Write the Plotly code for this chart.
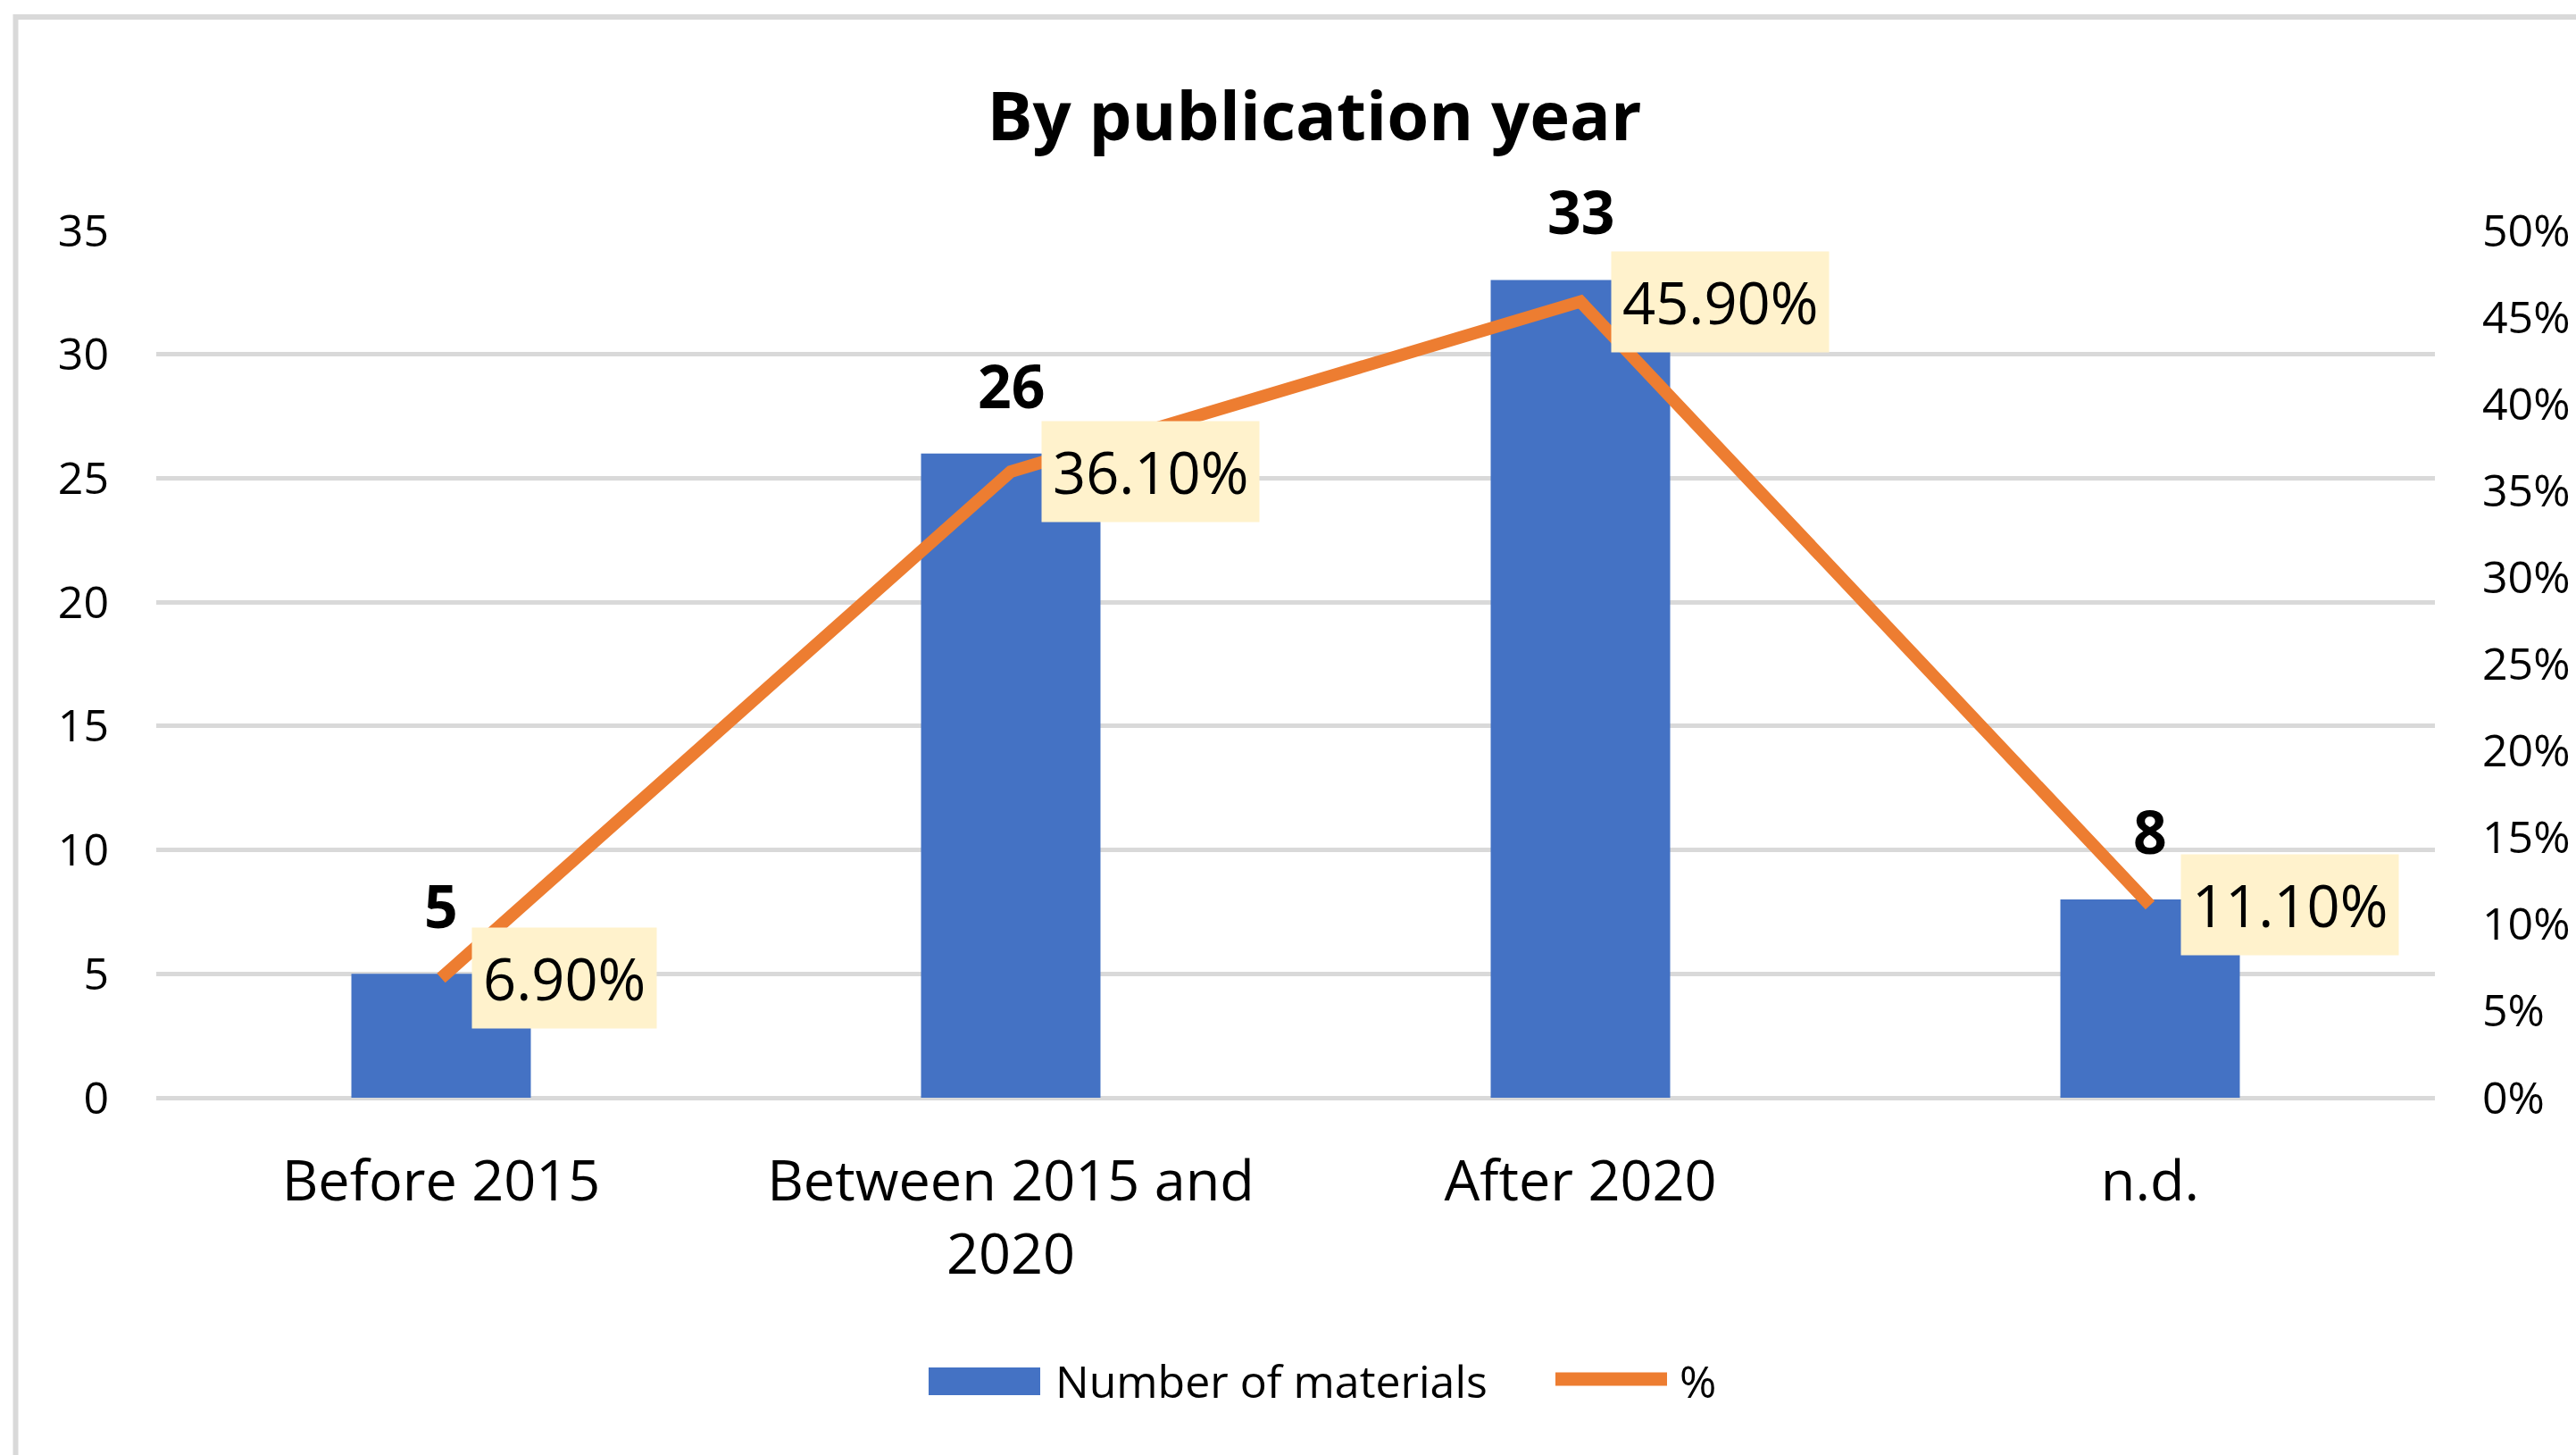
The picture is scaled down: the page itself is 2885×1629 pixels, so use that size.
import plotly.graph_objects as go

# ---- data -------------------------------------------------------------
categories = ["Before 2015", "Between 2015 and 2020", "After 2020", "n.d."]
tick_labels = ["Before 2015", "Between 2015 and<br>2020", "After 2020", "n.d."]
materials = [5, 26, 33, 8]
shares = [0.069, 0.361, 0.459, 0.111]

# ---- canvas / plot-area geometry (pixels) -----------------------------
W, H = 2885, 1629
M_L, M_R, M_T, M_B = 175, 158, 258, 400
PLOT_W = W - M_L - M_R
PLOT_H = H - M_T - M_B


def px_x(px):
    """Pixel column -> paper x."""
    return (px - M_L) / PLOT_W


def px_y(py):
    """Pixel row -> paper y."""
    return (H - M_B - py) / PLOT_H


BLUE = "#4472C4"
ORANGE = "#ED7D31"
GRID = "#D9D9D9"
FONT = "Open Sans"

fig = go.Figure()

fig.add_trace(go.Bar(
    x=categories, y=materials, name="Number of materials",
    marker=dict(color=BLUE, line=dict(width=0)),
    yaxis="y", showlegend=False,
))
fig.add_trace(go.Scatter(
    x=categories, y=shares, name="%", mode="lines",
    line=dict(color=ORANGE, width=14),
    yaxis="y2", showlegend=False,
))

annotations = []

# bold count labels above each bar
for cat, v in zip(categories, materials):
    annotations.append(dict(
        x=cat, y=v, xref="x", yref="y", text=f"<b>{v}</b>",
        showarrow=False, yanchor="bottom", yshift=30,
        font=dict(family=FONT, size=66, color="#000000"),
    ))

# percentage call-outs to the right of each line point
for cat, s in zip(categories, shares):
    annotations.append(dict(
        x=cat, y=s, xref="x", yref="y2", text=f"{s:.2%}",
        showarrow=False, xanchor="left", yanchor="middle", xshift=34,
        bgcolor="#FFF2CC", borderpad=12,
        font=dict(family=FONT, size=65, color="#000000"),
    ))

# legend entries
annotations.append(dict(
    x=px_x(1180), y=px_y(1546), xref="paper", yref="paper",
    text="Number of materials", showarrow=False,
    xanchor="left", yanchor="middle",
    font=dict(family=FONT, size=50, color="#000000"),
))
annotations.append(dict(
    x=px_x(1879), y=px_y(1546), xref="paper", yref="paper",
    text="%", showarrow=False, xanchor="left", yanchor="middle",
    font=dict(family=FONT, size=50, color="#000000"),
))

shapes = [
    # chart-area frame (top and left edges visible)
    dict(type="rect", xref="paper", yref="paper",
         x0=px_x(17.5), x1=px_x(2960), y0=px_y(1700), y1=px_y(19),
         line=dict(color=GRID, width=6), fillcolor="rgba(0,0,0,0)",
         layer="below"),
    # legend swatches
    dict(type="rect", xref="paper", yref="paper",
         x0=px_x(1040), x1=px_x(1165), y0=px_y(1562), y1=px_y(1531),
         line=dict(width=0), fillcolor=BLUE),
    dict(type="line", xref="paper", yref="paper",
         x0=px_x(1742), x1=px_x(1867), y0=px_y(1544), y1=px_y(1544),
         line=dict(color=ORANGE, width=15)),
]

fig.update_layout(
    width=W, height=H,
    margin=dict(l=M_L, r=M_R, t=M_T, b=M_B, autoexpand=False),
    paper_bgcolor="#FFFFFF", plot_bgcolor="#FFFFFF",
    font=dict(family=FONT, color="#000000"),
    title=dict(
        text="<b>By publication year</b>",
        x=1472 / W, y=1 - 130 / H, xref="container", yref="container",
        xanchor="center", yanchor="middle",
        font=dict(family=FONT, size=76, color="#000000"),
    ),
    bargap=0.685,
    xaxis=dict(
        type="category", tickvals=categories, ticktext=tick_labels,
        tickfont=dict(family=FONT, size=63, color="#000000"),
        ticks="", showgrid=False, showline=False, zeroline=False,
        ticklabelstandoff=51,
    ),
    yaxis=dict(
        range=[0, 35], dtick=5, tick0=0,
        tickfont=dict(family=FONT, size=50, color="#000000"),
        showgrid=True, gridcolor=GRID, gridwidth=5,
        zeroline=True, zerolinecolor=GRID, zerolinewidth=5,
        showline=False, ticks="", ticklabelstandoff=52,
    ),
    yaxis2=dict(
        overlaying="y", side="right", range=[0, 0.5], dtick=0.05, tick0=0,
        tickformat=".0%",
        tickfont=dict(family=FONT, size=50, color="#000000"),
        showgrid=False, zeroline=False, showline=False, ticks="",
        ticklabelstandoff=52,
    ),
    annotations=annotations,
    shapes=shapes,
    showlegend=False,
)

fig.write_html("out.html")
